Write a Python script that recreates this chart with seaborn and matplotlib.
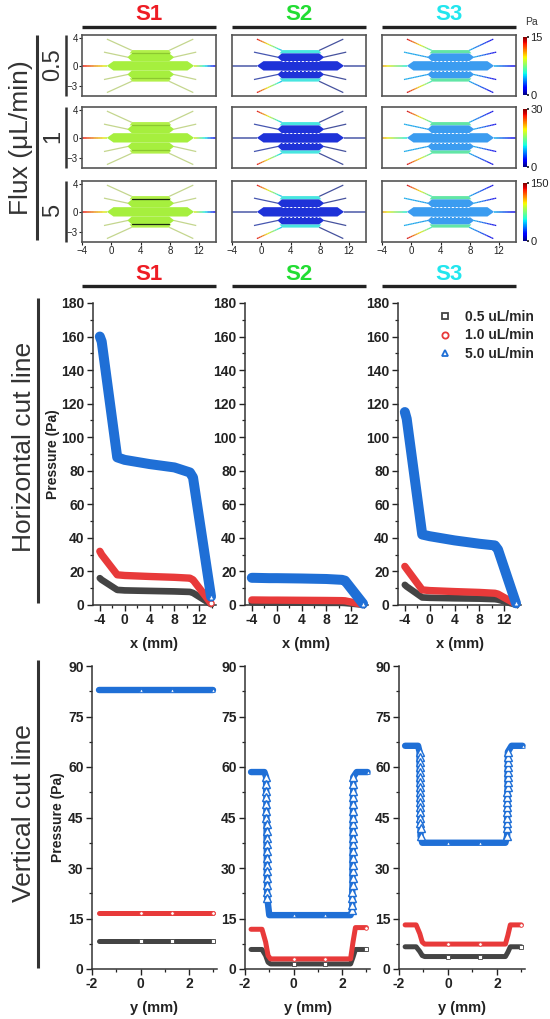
import numpy as np
import pandas as pd
import matplotlib
matplotlib.use("Agg")
import matplotlib as mpl
import matplotlib.pyplot as plt
import seaborn as sns
from matplotlib.lines import Line2D
from matplotlib.patches import Polygon
from matplotlib.collections import LineCollection
from matplotlib.colors import Normalize

# ---------------- data ----------------
samples = ["S1", "S2", "S3"]
sample_colors = ["#ee1c24", "#22dd33", "#22e6ee"]
flux_labels = ["0.5", "1", "5"]
flux_max = [15, 30, 150]
series_labels = ["0.5 uL/min", "1.0 uL/min", "5.0 uL/min"]

# horizontal cut line: x (mm) and pressure (Pa)
hx = [-4.0, -3.7, -1.2, 0.0, 4.0, 8.0, 10.5, 11.0, 13.9]
h_s1_05 = [16, 15, 9, 8.7, 8.4, 8.1, 7.8, 7.2, 0.5]
h_s1_10 = [32, 30, 18, 17.6, 17, 16.5, 16, 15, 1]
h_s1_50 = [160, 157, 88, 86.5, 84, 82, 79, 76, 5]
h_s2_05 = [1.5, 1.5, 1.4, 1.4, 1.4, 1.3, 1.3, 1.2, 0.2]
h_s2_10 = [3, 3, 2.9, 2.9, 2.8, 2.7, 2.6, 2.5, 0.3]
h_s2_50 = [16.2, 16.2, 16, 16, 15.8, 15.5, 15, 14.5, 0.8]
h_s3_05 = [12, 11, 4.5, 4.3, 4, 3.8, 3.5, 3.2, 0.2]
h_s3_10 = [23, 21.5, 9, 8.6, 8, 7.5, 7, 6.5, 0.5]
h_s3_50 = [115, 111, 42, 41, 38.5, 36.5, 35.5, 33, 1]

# vertical cut line: y (mm) and pressure (Pa)
v1_x = [-1.7, 0.0, 1.3, 3.0]
v_s1_05 = [8.3, 8.3, 8.3, 8.3]
v_s1_10 = [16.5, 16.5, 16.5, 16.5]
v_s1_50 = [83, 83, 83, 83]

vstep_x = [-1.75, -1.3, -1.15, -1.05, -0.95, 0.0, 1.3, 2.35, 2.45, 2.55, 3.0]
v_s2_05 = [5.8, 5.8, 4.0, 2.0, 1.5, 1.5, 1.5, 1.5, 3.5, 5.8, 5.8]
v_s2_10 = [11.8, 11.8, 8.0, 4.0, 3.0, 3.0, 3.0, 3.0, 8.0, 12.3, 12.3]
v_s3_05 = [6.6, 6.6, 5.2, 4.0, 3.7, 3.7, 3.7, 3.7, 5.0, 6.6, 6.6]
v_s3_10 = [13.1, 13.1, 10.5, 8.0, 7.4, 7.4, 7.4, 7.4, 10.0, 13.1, 13.1]

v_s2_50_x = [-1.75, -1.45, -1.2,
             -1.13, -1.13, -1.13, -1.12, -1.12, -1.12, -1.12, -1.11, -1.11, -1.11, -1.11,
             -1.1, -1.1, -1.1, -1.1, -1.09, -1.09, -1.09, -1.08,
             -1.0, 0.0, 1.3, 2.35,
             2.42, 2.42, 2.42, 2.42, 2.43, 2.43, 2.43, 2.43, 2.43, 2.44, 2.44,
             2.44, 2.44, 2.44, 2.45, 2.45, 2.45, 2.45, 2.46, 2.46, 2.46,
             2.6, 3.05]
v_s2_50 = [58.5, 58.5, 58.5,
           57, 55, 53, 51, 49, 47, 45, 43, 41, 39, 37,
           35, 33, 31, 29, 27, 25, 23, 21,
           16, 16, 16, 16,
           17.5, 19, 21, 23, 25, 27, 29, 31, 33, 35, 37,
           39, 41, 43, 45, 47, 49, 51, 53, 55, 57,
           58.5, 58.5]

v_s3_50_x = [-1.75, -1.45, -1.22,
             -1.16, -1.16, -1.16, -1.15, -1.15, -1.15, -1.15, -1.14, -1.14,
             -1.14, -1.14, -1.13, -1.13, -1.13, -1.13, -1.12, -1.12,
             -1.05, 0.0, 1.3, 2.35,
             2.42, 2.42, 2.42, 2.42, 2.43, 2.43, 2.43, 2.43, 2.43,
             2.44, 2.44, 2.44, 2.44, 2.45, 2.45, 2.45, 2.45,
             2.6, 3.05]
v_s3_50 = [66.3, 66.3, 66.3,
           64.5, 63, 61.5, 60, 58.5, 57, 55.5, 54, 52.5,
           51, 49.5, 48, 46.5, 45, 43.5, 42, 39.5,
           37.5, 37.5, 37.5, 37.5,
           39.5, 42, 43.5, 45, 46.5, 48, 49.5, 51, 52.5,
           54, 55.5, 57, 58.5, 60, 61.5, 63, 64.5,
           66.3, 66.3]

horiz = {
    "S1": [(hx, h_s1_05), (hx, h_s1_10), (hx, h_s1_50)],
    "S2": [(hx, h_s2_05), (hx, h_s2_10), (hx, h_s2_50)],
    "S3": [(hx, h_s3_05), (hx, h_s3_10), (hx, h_s3_50)],
}
vert = {
    "S1": [(v1_x, v_s1_05), (v1_x, v_s1_10), (v1_x, v_s1_50)],
    "S2": [(vstep_x, v_s2_05), (vstep_x, v_s2_10), (v_s2_50_x, v_s2_50)],
    "S3": [(vstep_x, v_s3_05), (vstep_x, v_s3_10), (v_s3_50_x, v_s3_50)],
}

# device geometry (mm)
center_chamber = [(-0.6, 0), (0.3, 0.68), (10.4, 0.68), (11.3, 0), (10.4, -0.68), (0.3, -0.68)]
inner_chamber = [(2.2, 1.25), (2.8, 0.68), (7.9, 0.68), (8.6, 1.25), (7.9, 1.82), (2.8, 1.82)]
outer_strip = [(2.5, 1.82), (2.85, 2.3), (7.85, 2.3), (8.2, 1.82)]
inlet = [(-4.0, 0), (-0.6, 0)]
outlet = [(11.3, 0), (14.3, 0)]
ch_left_outer = [(-0.6, 3.9), (2.8, 2.25)]
ch_left_inner = [(-1.0, 2.0), (2.3, 1.25)]
ch_right_outer = [(11.2, 3.9), (7.9, 2.25)]
ch_right_inner = [(11.6, 2.0), (8.5, 1.25)]

# ---------------- style ----------------
sns.set_theme(style="ticks")
plt.rcParams["font.family"] = ["Liberation Sans", "DejaVu Sans"]
plt.rcParams["axes.edgecolor"] = "#333333"

W, H = 550, 1019
fig = plt.figure(figsize=(5.5, 10.19), dpi=100)


def rect(l, t, r, b):
    return [l / W, 1 - b / H, (r - l) / W, (b - t) / H]


def ftext(x, y, s, **kw):
    fig.text(x / W, 1 - y / H, s, ha="center", va="center", **kw)


def fline(x0, y0, x1, y1, lw=2.2, color="#222222"):
    fig.add_artist(Line2D([x0 / W, x1 / W], [1 - y0 / H, 1 - y1 / H],
                          transform=fig.transFigure, color=color, lw=lw,
                          solid_capstyle="butt"))


jet = plt.get_cmap("jet")


def chan(ax, pts, spec, lw=0.9, mirror=False, n=14):
    (x0, y0), (x1, y1) = pts
    if mirror:
        y0, y1 = -y0, -y1
    if isinstance(spec, str):
        ax.plot([x0, x1], [y0, y1], color=spec, lw=lw, zorder=1, solid_capstyle="butt")
        return
    xs = np.linspace(x0, x1, n + 1)
    ys = np.linspace(y0, y1, n + 1)
    segs = [[(xs[i], ys[i]), (xs[i + 1], ys[i + 1])] for i in range(n)]
    cols = jet(np.linspace(spec[0], spec[1], n))
    cols[:, :3] = cols[:, :3] * 0.8 + 0.12
    ax.add_collection(LineCollection(segs, colors=cols, linewidths=lw, zorder=1,
                                     capstyle="butt"))


dev_style = {
    "S1": dict(chamber="#a6ef3e", strip="#b2f04a", inlet=(0.9, 0.62), outlet=(0.62, 0.1),
               lo="#c4d68e", li="#c4d68e", ro="#c4d68e", ri="#c4d68e", dashed=False),
    "S2": dict(chamber="#1e32d8", strip="#48e6e0", inlet="#4a58a8", outlet="#4a58a8",
               lo=(0.9, 0.32), li="#4656b0", ro="#46529e", ri="#46529e", dashed=True),
    "S3": dict(chamber="#3b9cf0", strip="#62e6a6", inlet=(0.72, 0.38), outlet=(0.3, 0.1),
               lo=(0.92, 0.42), li=(0.3, 0.28), ro=(0.1, 0.3), ri=(0.1, 0.3), dashed=True),
}


def draw_device(ax, s, row):
    st = dev_style[s]
    chan(ax, inlet, st["inlet"], lw=1.1)
    chan(ax, outlet, st["outlet"], lw=1.1)
    for m in (False, True):
        chan(ax, ch_left_outer, st["lo"], mirror=m)
        chan(ax, ch_left_inner, st["li"], mirror=m)
        chan(ax, ch_right_outer, st["ro"], mirror=m)
        chan(ax, ch_right_inner, st["ri"], mirror=m)
        sgn = -1 if m else 1
        ax.add_patch(Polygon([(x, sgn * y) for x, y in outer_strip], closed=True,
                             fc=st["strip"], ec="none", zorder=2))
        ax.add_patch(Polygon([(x, sgn * y) for x, y in inner_chamber], closed=True,
                             fc=st["chamber"], ec="none", zorder=2))
        if s == "S1":
            sep = "#1a2a10" if row == 2 else "#8cc830"
            ax.plot([2.85, 7.85], [sgn * 1.82, sgn * 1.82], color=sep, lw=0.9, zorder=3)
    ax.add_patch(Polygon(center_chamber, closed=True, fc=st["chamber"], ec="none", zorder=2))
    if st["dashed"]:
        for yy in (0.68, -0.68):
            ax.plot([2.8, 7.9], [yy, yy], color="white", lw=0.7, ls=(0, (2, 2)), zorder=3)


# ---------------- top: device maps ----------------
col_x = [(82, 216), (232, 366), (382, 516)]
row_y = [(35, 96), (107, 168), (181, 242)]
for ci, s in enumerate(samples):
    for ri in range(3):
        ax = fig.add_axes(rect(col_x[ci][0], row_y[ri][0], col_x[ci][1], row_y[ri][1]))
        ax.set_xlim(-4, 14.3)
        ax.set_ylim(-4.4, 4.5)
        draw_device(ax, s, ri)
        for sp in ax.spines.values():
            sp.set_color("#555555")
            sp.set_linewidth(1.2)
            sp.set_visible(True)
        ax.tick_params(length=2, width=0.8, pad=1, labelsize=7, colors="#222222")
        if ci == 0:
            ax.set_yticks([4, 0, -3])
            ax.set_yticklabels(["4", "0", "\u22123"])
        else:
            ax.set_yticks([])
        if ri == 2:
            ax.set_xticks([-4, 0, 4, 8, 12])
            ax.set_xticklabels(["\u22124", "0", "4", "8", "12"])
        else:
            ax.set_xticks([])

# colorbars
cb_y = [(37, 95), (109, 167), (183, 241)]
for ri in range(3):
    cax = fig.add_axes(rect(523, cb_y[ri][0], 527, cb_y[ri][1]))
    cb = mpl.colorbar.ColorbarBase(cax, cmap=jet, norm=Normalize(0, flux_max[ri]),
                                   ticks=[0, flux_max[ri]])
    cb.outline.set_visible(False)
    cax.tick_params(labelsize=8, length=1.5, pad=1, colors="#222222")
ftext(531, 22, "Pa", fontsize=7.5, color="#333333")

# headers
hdr_cx = [149, 299, 449]
for ci, s in enumerate(samples):
    for ty, by in ((15, 27), (275, 286)):
        ftext(hdr_cx[ci], ty, s, fontsize=16, fontweight="bold", color=sample_colors[ci])
        fline(col_x[ci][0], by, col_x[ci][1], by, lw=2.4)

# left labels
ftext(21, 138, "Flux (\u03bcL/min)", rotation=90, fontsize=19, color="#333333")
fline(37, 35, 37, 240, lw=2.2, color="#333333")
for ri in range(3):
    ftext(53, (row_y[ri][0] + row_y[ri][1]) / 2 - 1, flux_labels[ri], rotation=90,
          fontsize=17, color="#333333")
    fline(66, row_y[ri][0], 66, row_y[ri][1], lw=1.8, color="#333333")

ftext(24, 447, "Horizontal cut line", rotation=90, fontsize=19, color="#333333")
fline(38, 298, 38, 603, lw=2.2, color="#333333")
ftext(24, 813, "Vertical cut line", rotation=90, fontsize=19, color="#333333")
fline(38, 660, 38, 968, lw=2.2, color="#333333")

# ---------------- line plots ----------------
line_colors = ["#444444", "#e83a3a", "#1f6fd6"]
markers = ["s", "o", "^"]


def style_axis(ax):
    sns.despine(ax=ax)
    for sp in ("left", "bottom"):
        ax.spines[sp].set_color("#333333")
        ax.spines[sp].set_linewidth(1.1)
    ax.tick_params(which="major", length=4, width=1, labelsize=10, pad=2,
                   colors="#222222", direction="out")
    ax.tick_params(which="minor", length=2.5, width=0.9, colors="#222222", direction="out")
    for lbl in ax.get_xticklabels() + ax.get_yticklabels():
        lbl.set_fontweight("bold")
    ax.set_facecolor("none")


def draw_series(ax, xs, ys, k, lw, small_idx, big_idx, small_ms):
    df = pd.DataFrame({"pos": xs, "p": ys})
    c = line_colors[k]
    sns.lineplot(data=df, x="pos", y="p", ax=ax, color=c, lw=lw, sort=False,
                 estimator=None, legend=False, solid_joinstyle="round",
                 solid_capstyle="round", clip_on=False, zorder=3 + k)
    if small_idx:
        sns.lineplot(data=df, x="pos", y="p", ax=ax, color=c, lw=0, sort=False,
                     estimator=None, legend=False, marker=markers[k], markevery=small_idx,
                     markersize=small_ms, markerfacecolor="white", markeredgecolor=c,
                     markeredgewidth=0.6, clip_on=False, zorder=3.5 + k)
    if big_idx:
        sns.lineplot(data=df, x="pos", y="p", ax=ax, color=c, lw=0, sort=False,
                     estimator=None, legend=False, marker=markers[k], markevery=big_idx,
                     markersize=5.5, markerfacecolor="white", markeredgecolor=c,
                     markeredgewidth=1.0, clip_on=False, zorder=3.6 + k)


mid_x = [(93, 216), (245, 368), (398, 521)]
bot_x = [(92, 217), (245, 370), (399, 525)]
lw_mid = [4.8, 5.3, 7.2]
lw_bot = [3.6, 3.6, 4.6]

for ci, s in enumerate(samples):
    # horizontal cut
    ax = fig.add_axes(rect(mid_x[ci][0], 303, mid_x[ci][1], 605))
    for k, (xs, ys) in enumerate(horiz[s]):
        draw_series(ax, xs, ys, k, lw_mid[k], [len(xs) - 1], [], 3.5)
    ax.set_xlim(-5.1, 14.7)
    ax.set_ylim(0, 180)
    ax.set_xticks([-4, 0, 4, 8, 12])
    ax.set_xticks([-2, 2, 6, 10, 14], minor=True)
    ax.set_yticks(np.arange(0, 181, 20))
    ax.set_yticks(np.arange(10, 180, 20), minor=True)
    ax.set_xticklabels(["-4", "0", "4", "8", "12"])
    ax.set_xlabel("x (mm)", fontsize=10.5, fontweight="bold", labelpad=7, color="#222222")
    if ci == 0:
        ax.set_ylabel("Pressure (Pa)", fontsize=10, fontweight="bold", labelpad=1,
                      color="#222222")
    else:
        ax.set_ylabel("")
    style_axis(ax)
    if ci == 2:
        handles = [Line2D([], [], ls="none", marker=markers[k], mfc="none",
                          mec=line_colors[k], ms=4.5, mew=1.3) for k in range(3)]
        ax.legend(handles, series_labels, loc="upper left",
                  bbox_to_anchor=(0.27, 1.0), frameon=False, borderpad=0,
                  handlelength=1.0, handletextpad=0.9, labelspacing=0.32,
                  prop={"weight": "bold", "size": 10})

    # vertical cut
    ax = fig.add_axes(rect(bot_x[ci][0], 666, bot_x[ci][1], 969))
    for k, (xs, ys) in enumerate(vert[s]):
        n = len(xs)
        if s == "S1":
            small, big = list(range(1, n)), []
        elif k < 2:
            small, big = [5, 6, n - 1], []
        else:
            flat = [i for i in range(1, n - 1)
                    if ys[i] == ys[i - 1] and ys[i] == ys[i + 1] and xs[i] > -1.1 and xs[i] < 2.3]
            small = flat + [n - 1]
            big = [i for i in range(n) if ys[i] != ys[0] and ys[i] != min(ys)]
        draw_series(ax, xs, ys, k, lw_bot[k], small, big, 2.6)
    ax.set_xlim(-2, 3.15)
    ax.set_ylim(0, 90)
    ax.set_xticks([-2, 0, 2])
    ax.set_xticks([-1, 1, 3], minor=True)
    ax.set_xticklabels(["-2", "0", "2"])
    ax.set_yticks(np.arange(0, 91, 15))
    ax.set_yticks(np.arange(7.5, 90, 15), minor=True)
    ax.set_xlabel("y (mm)", fontsize=10.5, fontweight="bold", labelpad=7, color="#222222")
    if ci == 0:
        ax.set_ylabel("Pressure (Pa)", fontsize=10, fontweight="bold", labelpad=2,
                      color="#222222")
    else:
        ax.set_ylabel("")
    style_axis(ax)

fig.savefig("out.png", dpi=100)
